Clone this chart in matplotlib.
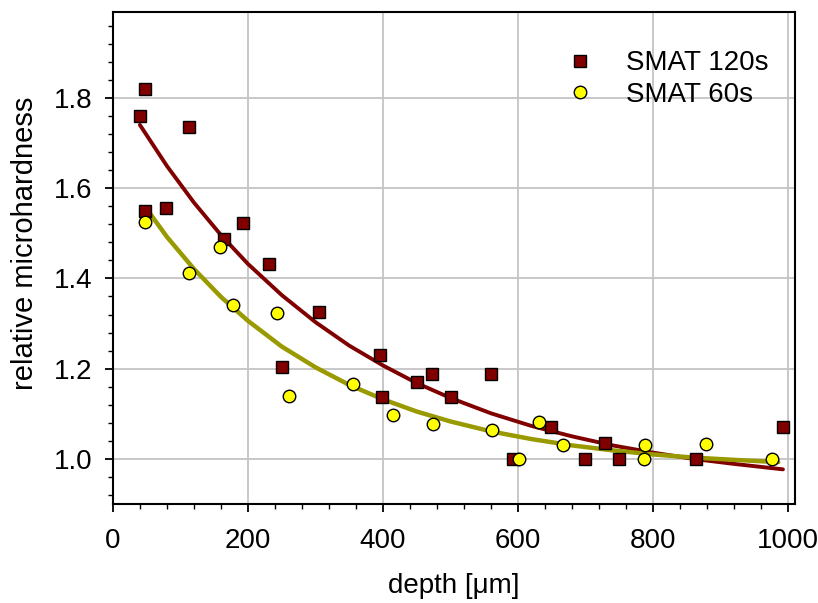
import matplotlib
matplotlib.use("Agg")
import matplotlib.pyplot as plt
from matplotlib.ticker import MultipleLocator, FormatStrFormatter

plt.rcParams.update({
    "font.family": ["Liberation Sans", "DejaVu Sans"],
})

# ── data ──────────────────────────────────────────────────────────────────────
depth_120 = [40, 48, 48, 79, 112, 165, 193, 231, 250, 305, 395, 399, 450, 472,
             500, 560, 593, 648, 699, 728, 750, 864, 992]
hard_120 = [1.760, 1.820, 1.550, 1.556, 1.736, 1.488, 1.523, 1.431, 1.204,
            1.326, 1.230, 1.137, 1.170, 1.188, 1.137, 1.188, 1.000, 1.070,
            1.000, 1.036, 1.000, 1.000, 1.070]

depth_60 = [48, 113, 158, 178, 243, 260, 356, 415, 474, 562, 601, 631, 666,
            786, 788, 878, 976]
hard_60 = [1.524, 1.413, 1.470, 1.340, 1.323, 1.140, 1.165, 1.098, 1.078,
           1.065, 1.000, 1.081, 1.031, 1.000, 1.030, 1.033, 1.000]

# fitted curves as drawn in the reference
fit_x_120 = [40, 80, 120, 160, 200, 250, 300, 350, 400, 450, 500, 560, 620,
             680, 740, 800, 860, 920, 992]
fit_y_120 = [1.740, 1.649, 1.568, 1.496, 1.432, 1.363, 1.303, 1.251, 1.207,
             1.168, 1.135, 1.101, 1.073, 1.050, 1.030, 1.014, 1.000, 0.989,
             0.977]

fit_x_60 = [48, 80, 120, 160, 200, 250, 300, 350, 400, 450, 500, 560, 620,
            680, 740, 800, 860, 920, 985]
fit_y_60 = [1.558, 1.492, 1.421, 1.359, 1.306, 1.249, 1.203, 1.164, 1.132,
            1.105, 1.083, 1.061, 1.044, 1.030, 1.019, 1.010, 1.003, 0.998,
            0.993]

labels = ["SMAT 120s", "SMAT 60s"]

RED = "#800000"
OLIVE = "#999900"
YELLOW = "#ffff00"

fig = plt.figure(figsize=(8.18, 6.03), dpi=100)
ax = fig.add_axes([0.138, 0.164, 0.834, 0.816])

ax.plot(fit_x_120, fit_y_120, color=RED, lw=2.8, zorder=3,
        solid_capstyle="round", solid_joinstyle="round")
ax.plot(fit_x_60, fit_y_60, color=OLIVE, lw=3.2, zorder=3,
        solid_capstyle="round", solid_joinstyle="round")
ax.plot(depth_120, hard_120, ls="none", marker="s", ms=8.5, mfc=RED,
        mec="black", mew=1.0, label=labels[0], zorder=4)
ax.plot(depth_60, hard_60, ls="none", marker="o", ms=9, mfc=YELLOW,
        mec="black", mew=1.0, label=labels[1], zorder=5)

ax.set_xlim(0, 1010)
ax.set_ylim(0.9, 1.99)
ax.xaxis.set_major_locator(MultipleLocator(200))
ax.xaxis.set_minor_locator(MultipleLocator(40))
ax.yaxis.set_minor_locator(MultipleLocator(0.04))
ax.set_yticks([1.0, 1.2, 1.4, 1.6, 1.8])
ax.yaxis.set_major_formatter(FormatStrFormatter("%.1f"))

ax.tick_params(axis="x", which="major", direction="out", length=6, width=1.3,
               labelsize=20, pad=11)
ax.tick_params(axis="y", which="major", direction="out", length=6, width=1.3,
               labelsize=20, pad=9)
ax.tick_params(which="minor", direction="out", length=3.5, width=1.0)

ax.grid(True, which="major", color="#c4c4c4", lw=1.3, zorder=0)
ax.set_axisbelow(True)
for s in ax.spines.values():
    s.set_linewidth(1.5)

ax.set_xlabel("depth [\u03bcm]", fontsize=20, labelpad=14)
ax.set_ylabel("relative microhardness", fontsize=21)
ax.yaxis.set_label_coords(-0.108, 0.53)

ax.legend(loc="upper left", bbox_to_anchor=(0.665, 0.922), frameon=False,
          fontsize=20, handlelength=1.0, handletextpad=1.15, borderpad=0,
          borderaxespad=0, labelspacing=0.2)

plt.savefig("out.png", dpi=100)
